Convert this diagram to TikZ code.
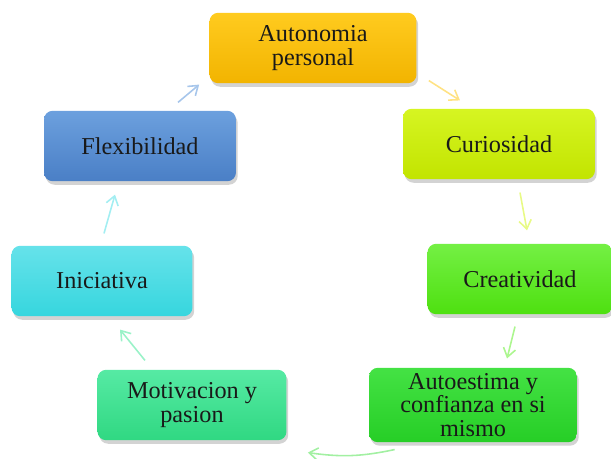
\documentclass[tikz,border=0pt]{standalone}
\usepackage{fontspec}
\setmainfont{Liberation Serif}
\usepackage{tikz}
\usetikzlibrary{calc}
\usetikzlibrary{shadows}
\usetikzlibrary{arrows.meta}
\usetikzlibrary{positioning}
\definecolor{autoTop}{HTML}{FFCB1F}
\definecolor{autoBot}{HTML}{F2B400}
\definecolor{curioTop}{HTML}{D6F522}
\definecolor{curioBot}{HTML}{C2E400}
\definecolor{creatTop}{HTML}{74F044}
\definecolor{creatBot}{HTML}{4EE010}
\definecolor{estimaTop}{HTML}{44E244}
\definecolor{estimaBot}{HTML}{26CE26}
\definecolor{motivTop}{HTML}{56EAA4}
\definecolor{motivBot}{HTML}{30D882}
\definecolor{inicTop}{HTML}{66E2EA}
\definecolor{inicBot}{HTML}{36D6DE}
\definecolor{flexTop}{HTML}{6CA0DE}
\definecolor{flexBot}{HTML}{4A7FC6}
\tikzset{concept/.style={rounded corners=5pt,minimum height=1.41cm,align=center,
  text=black!90,font=\fontsize{13.8}{13.2}\selectfont,
  drop shadow={opacity=0.35,shadow xshift=1pt,shadow yshift=-2pt}}}
\tikzset{flow/.style={line width=0.9pt,-{Straight Barb[length=5pt,width=7pt]}}}

\begin{document}
\begin{tikzpicture}[x=0.02cm,y=-0.02cm]
\useasboundingbox (0,0) rectangle (611,459);
  \node[concept,minimum width=4.14cm,top color=autoTop,bottom color=autoBot] (auto) at (313,48) {Autonomia\\personal};
  \node[concept,minimum width=3.84cm,top color=curioTop,bottom color=curioBot] (curio) at (499,144) {Curiosidad};
  \node[concept,minimum width=3.70cm,top color=creatTop,bottom color=creatBot] (creat) at (520,279) {Creatividad};
  \node[concept,minimum width=4.16cm,top color=estimaTop,bottom color=estimaBot] (estima) at (473,405) {Autoestima y\\confianza en si\\mismo};
  \node[concept,minimum width=3.78cm,top color=motivTop,bottom color=motivBot] (motiv) at (192,405) {Motivacion y\\pasion};
  \node[concept,minimum width=3.62cm,top color=inicTop,bottom color=inicBot] (inic) at (102,281) {Iniciativa};
  \node[concept,minimum width=3.84cm,top color=flexTop,bottom color=flexBot] (flex) at (140,146) {Flexibilidad};
  % connectors around the cycle
  \draw[flow,color=flexTop!60] ($(flex.north)+(38,-8)$) -- ($(auto.south west)+(-10,1)$);
  \draw[flow,color=autoTop!55] ($(auto.south east)+(12,-3)$) -- ($(curio.north)+(-39,-8)$);
  \draw[flow,color=curioTop!55] ($(curio.south)+(21,13)$) -- ($(creat.north)+(7,-13)$);
  \draw[flow,color=creatTop!60] ($(creat.south)+(-5,12)$) -- ($(estima.north)+(34,-9)$);
  \draw[flow,color=estimaTop!50] ($(estima.south west)+(26,7)$) to[bend left=10] ($(motiv.south east)+(21,12)$);
  \draw[flow,color=motivTop!60] ($(motiv.north)+(-47,-9)$) -- ($(inic.south)+(18,13)$);
  \draw[flow,color=inicTop!60] ($(inic.north)+(2,-12)$) -- ($(flex.south)+(-25,13)$);
\end{tikzpicture}
\end{document}
